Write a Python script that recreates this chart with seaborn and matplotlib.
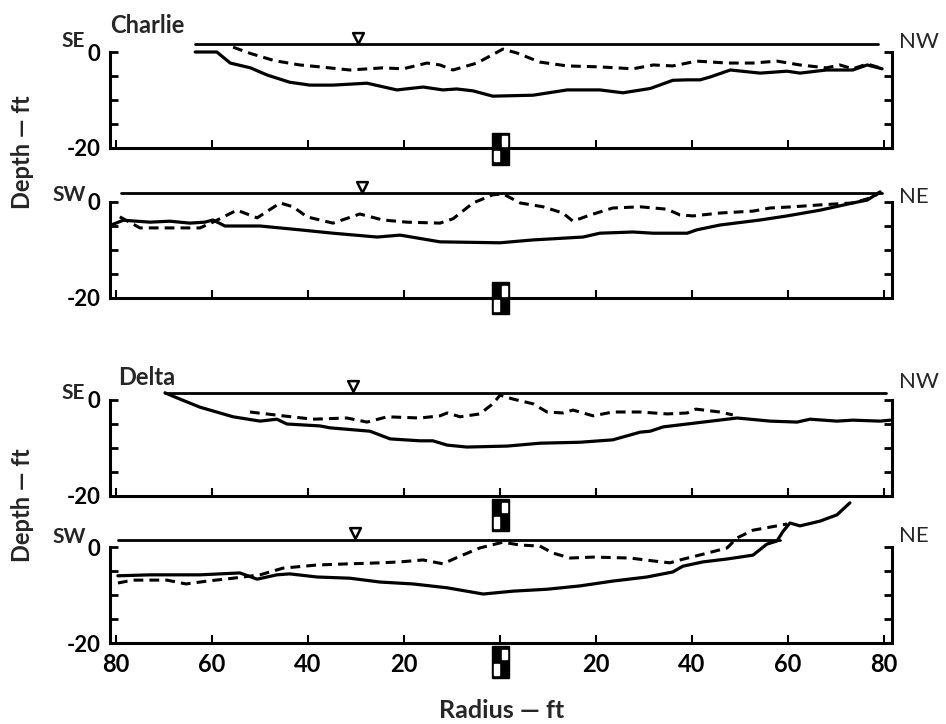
import matplotlib
matplotlib.use('Agg')
import matplotlib.pyplot as plt
from matplotlib.patches import Rectangle
import seaborn as sns

sns.set_theme(style='white')
plt.rcParams['font.family'] = ['Lato', 'DejaVu Sans']
plt.rcParams['font.weight'] = 'bold'

# ---- Charlie, SE - NW ----
c1_bed_x = [-63.5, -59, -56.2, -52, -48.5, -43.8, -39.6, -34.8, -27.7, -21.5, -16, -11.9, -9, -5.6,
            -1.5, 6.9, 14, 20.8, 25.6, 31.3, 36, 39, 41.7, 43.8, 48, 54.2, 59.8, 62.5, 68, 73.5, 76.5, 79.6]
c1_bed_y = [0, 0, -2.3, -3.3, -4.8, -6.3, -6.9, -6.9, -6.5, -7.9, -7.3, -7.9, -7.7, -8.1,
            -9.2, -9.0, -7.9, -7.9, -8.5, -7.6, -5.9, -5.8, -5.8, -5.2, -3.75, -4.4, -4.0, -4.4, -3.75, -3.75, -2.7, -3.5]
c1_pre_x = [-55.6, -52, -47, -41.7, -37.5, -31.3, -24.4, -20.2, -15.2, -12.5, -9.8, -4.8, 0.6, 3.5, 8.3,
            14, 20.8, 27.7, 31.9, 36, 41, 47.3, 52.7, 57.7, 62.5, 68, 70.8, 73.5, 76.5, 79.2]
c1_pre_y = [1.0, -0.3, -1.8, -2.7, -3.1, -3.75, -3.3, -3.5, -2.3, -2.7, -3.75, -2.3, 0.6, -0.2, -2.1,
            -2.9, -3.1, -3.5, -2.7, -2.9, -1.9, -2.3, -2.3, -1.9, -2.7, -3.3, -2.7, -3.5, -2.5, -3.3]

# ---- Charlie, SW - NE ----
c2_bed_x = [-81, -78.5, -72.9, -68.8, -64.6, -61.5, -59.8, -57.3, -50, -41.7, -34.8, -25.6, -20.8, -12.5,
            0, 6.9, 17.3, 20.8, 27.7, 31.9, 39, 41, 45.8, 54.2, 59.8, 66.7, 73.5, 76.5, 79.2]
c2_bed_y = [-4.8, -3.8, -4.2, -4.0, -4.4, -4.2, -3.75, -5.0, -5.0, -5.8, -6.5, -7.3, -6.9, -8.3,
            -8.5, -7.9, -7.3, -6.5, -6.25, -6.5, -6.5, -5.8, -4.8, -3.75, -2.9, -1.7, -0.2, 0.4, 2.1]
c2_pre_x = [-79.2, -75, -68.8, -62.5, -59.8, -54.8, -50.6, -45.8, -43.1, -40.2, -34.8, -29.2, -24.4, -19.4,
            -12.5, -9.8, -5.6, -1.5, 0.6, 4.2, 9, 13.1, 15.2, 18.8, 23.5, 29.2, 34.8, 37.5, 40.2, 45.8,
            52.7, 56.3, 61, 66.7, 73.5, 77.7, 79.2]
c2_pre_y = [-3.1, -5.4, -5.4, -5.4, -4.2, -1.7, -3.3, -0.2, -1.0, -3.1, -4.4, -2.5, -3.75, -4.2,
            -4.4, -3.5, -0.2, 1.5, 1.7, -0.2, -1.0, -2.3, -4.0, -2.7, -1.25, -1.0, -1.5, -2.7, -2.9, -2.3,
            -1.9, -1.25, -1.0, -0.6, -0.2, 1.0, 2.1]

# ---- Delta, SE - NW ----
d1_bed_x = [-69.8, -66.7, -62.5, -55.6, -50, -46.5, -44.4, -37.5, -35.4, -27.1, -22.9, -16.7, -14, -11,
            -6.9, 1.5, 8.3, 16.7, 23.5, 29.2, 31.3, 34, 39, 42.3, 49.4, 56.3, 61.9, 64.6, 70.2, 73.5, 79.2, 81.3]
d1_bed_y = [1.5, 0.2, -1.5, -3.5, -4.4, -4.0, -5.0, -5.4, -5.8, -6.5, -8.1, -8.5, -8.5, -9.4,
            -9.8, -9.6, -9.0, -8.8, -8.3, -6.7, -6.5, -5.6, -5.0, -4.6, -3.75, -4.4, -4.6, -4.0, -4.4, -4.2, -4.4, -4.2]
d1_pre_x = [-52.1, -45.2, -39, -31.9, -27.7, -23.5, -16.7, -12.5, -11, -8.3, -4.2, -1.5, 0, 2.7, 6.9,
            9.8, 13.1, 15.2, 19.4, 23.5, 29.2, 34.8, 39, 40.8, 45.8, 48.5]
d1_pre_y = [-2.5, -3.3, -4.0, -3.75, -4.6, -3.5, -3.75, -3.3, -2.7, -3.5, -2.9, -0.8, 1.0, 0.2, -0.8,
            -2.5, -2.7, -2.1, -3.3, -2.5, -2.5, -2.9, -2.7, -1.9, -2.5, -3.1]

# ---- Delta, SW - NE ----
d2_bed_x = [-79.6, -72.9, -62.5, -54.2, -50.6, -46.5, -43.8, -38.1, -31.3, -25, -18.1, -11, -3.5, 2.7,
            9.8, 16.7, 23.5, 30.6, 36, 38.1, 42.3, 47.3, 52.7, 55.6, 57.7, 59, 60.4, 62.5, 66.7, 70.2, 72.9]
d2_bed_y = [-6.0, -5.8, -5.8, -5.4, -6.7, -5.8, -5.6, -6.25, -6.5, -7.3, -7.7, -8.5, -9.8, -9.2,
            -8.8, -8.1, -7.1, -6.25, -5.2, -4.0, -3.1, -2.5, -1.7, 0.6, 1.25, 3.3, 5.0, 4.4, 5.4, 6.7, 9.2]
d2_pre_x = [-79.6, -76.5, -69.4, -65.4, -61, -55.6, -50, -45.2, -38.1, -31.3, -25, -20.8, -16, -11.9,
            -8.3, -4.2, 0.6, 4.2, 8.3, 11, 14.6, 19.4, 27.1, 31.9, 35.4, 37.5, 42.3, 47.3, 49.4, 52.7, 57.7, 59.8]
d2_pre_y = [-7.5, -6.9, -6.9, -7.7, -7.1, -6.5, -5.8, -4.4, -3.75, -3.5, -3.3, -3.1, -2.7, -3.5,
            -1.9, -0.2, 1.0, 0.4, 0.2, -1.25, -2.3, -2.1, -2.3, -2.9, -3.3, -2.7, -1.5, -0.2, 1.9, 3.5, 4.4, 4.8]

# water surface (start, end, level) and gauge marker (x, y) per panel
water_start = [-63.5, -79, -69.8, -79.5]
water_end = [78.8, 79.6, 80.5, 58.3]
water_level = [1.7, 1.9, 1.5, 1.5]
gauge_x = [-29.6, -28.8, -30.6, -30.2]
gauge_y = [2.9, 3.1, 2.9, 2.9]
pier_top = [-16.8, -16.7, -20.6, -20.6]

left_dir = ['SE', 'SW', 'SE', 'SW']
right_dir = ['NW', 'NE', 'NW', 'NE']
site_name = ['Charlie', None, 'Delta', None]
xticks = [-80, -60, -40, -20, 0, 20, 40, 60, 80]
xtick_labels = ['80', '60', '40', '20', '', '20', '40', '60', '80']

profiles = [
    (c1_bed_x, c1_bed_y, c1_pre_x, c1_pre_y),
    (c2_bed_x, c2_bed_y, c2_pre_x, c2_pre_y),
    (d1_bed_x, d1_bed_y, d1_pre_x, d1_pre_y),
    (d2_bed_x, d2_bed_y, d2_pre_x, d2_pre_y),
]

W, H = 946, 724
fig = plt.figure(figsize=(W / 100, H / 100), dpi=100)

def fx(px):
    return px / W

def fy(py):
    return 1 - py / H

bottoms_px = [148, 298, 496, 643]
ppf = 4.8  # pixels per foot
x_left, x_right = 110, 892

# label placement in pixels (x, baseline)
left_pos = [(61, 47), (52, 201), (61, 399), (52, 543)]
right_pos = [(899, 48), (899, 203), (899, 388), (899, 542)]
site_pos = [(110, 33), None, (118, 385), None]

for i, (bx, by, px_, py_) in enumerate(profiles):
    b = bottoms_px[i]
    ax = fig.add_axes([fx(x_left), fy(b), (x_right - x_left) / W, 24 * ppf / H])
    ax.set_xlim((x_left - 500) / ppf, (x_right - 500) / ppf)
    ax.set_ylim(-20, 4)
    ax.patch.set_alpha(0)

    sns.lineplot(x=bx, y=by, ax=ax, color='black', lw=2.3, sort=False, estimator=None, clip_on=False)
    sns.lineplot(x=px_, y=py_, ax=ax, color='black', lw=2.2, sort=False, estimator=None,
                 linestyle=(0, (3.2, 2.0)), clip_on=False)
    ax.plot([water_start[i], water_end[i]], [water_level[i]] * 2, color='black', lw=2.0, clip_on=False)
    ax.scatter([gauge_x[i]], [gauge_y[i]], marker='v', s=60, facecolor='white',
               edgecolor='black', linewidths=1.8, zorder=5, clip_on=False)

    # pier symbol at the centre line
    pt = pier_top[i]
    ax.add_patch(Rectangle((-1.7, pt - 6.7), 3.6, 6.7, facecolor='black', edgecolor='black',
                           clip_on=False, zorder=6))
    ax.add_patch(Rectangle((0.5, pt - 2.8), 0.9, 2.0, facecolor='white', clip_on=False, zorder=7))
    ax.add_patch(Rectangle((-1.2, pt - 6.0), 0.9, 2.2, facecolor='white', clip_on=False, zorder=7))

    for s in ['left', 'right', 'bottom']:
        ax.spines[s].set_visible(True)
        ax.spines[s].set_color('black')
        ax.spines[s].set_linewidth(2.2)
    ax.spines['top'].set_visible(False)
    ax.spines['left'].set_bounds(-20, 0)
    ax.spines['right'].set_bounds(-20, 0)

    ax.set_yticks([0, -5, -10, -15, -20])
    ax.set_yticklabels(['0', '', '', '', '-20'], fontsize=16, fontweight='bold')
    ax.set_xticks(xticks)
    if i == 3:
        ax.set_xticklabels(xtick_labels, fontsize=17, fontweight='bold')
    else:
        ax.set_xticklabels([])
    ax.tick_params(axis='y', direction='in', length=6, width=2, left=True, right=True,
                   labelright=False, pad=7, colors='black')
    ax.tick_params(axis='x', direction='in', length=6, width=1.5, bottom=True, pad=7, colors='black')
    ax.set_xlabel('')
    ax.set_ylabel('')

    lx, ly = left_pos[i]
    fig.text(fx(lx), fy(ly), left_dir[i], fontsize=15, fontweight='bold', ha='left', va='baseline')
    rx, ry = right_pos[i]
    fig.text(fx(rx), fy(ry), right_dir[i], fontsize=16, fontweight='normal', ha='left', va='baseline')
    if site_name[i]:
        sx, sy = site_pos[i]
        fig.text(fx(sx), fy(sy), site_name[i], fontsize=17, fontweight='bold',
                 ha='left', va='baseline')

fig.text(fx(22), fy(152), 'Depth \u2014 ft', rotation=90, fontsize=17, fontweight='bold',
         ha='center', va='center')
fig.text(fx(22), fy(505), 'Depth \u2014 ft', rotation=90, fontsize=17, fontweight='bold',
         ha='center', va='center')
fig.text(fx(502), fy(711), 'Radius \u2014 ft', fontsize=18, fontweight='bold', ha='center', va='center')

fig.savefig('out.png', dpi=100)
